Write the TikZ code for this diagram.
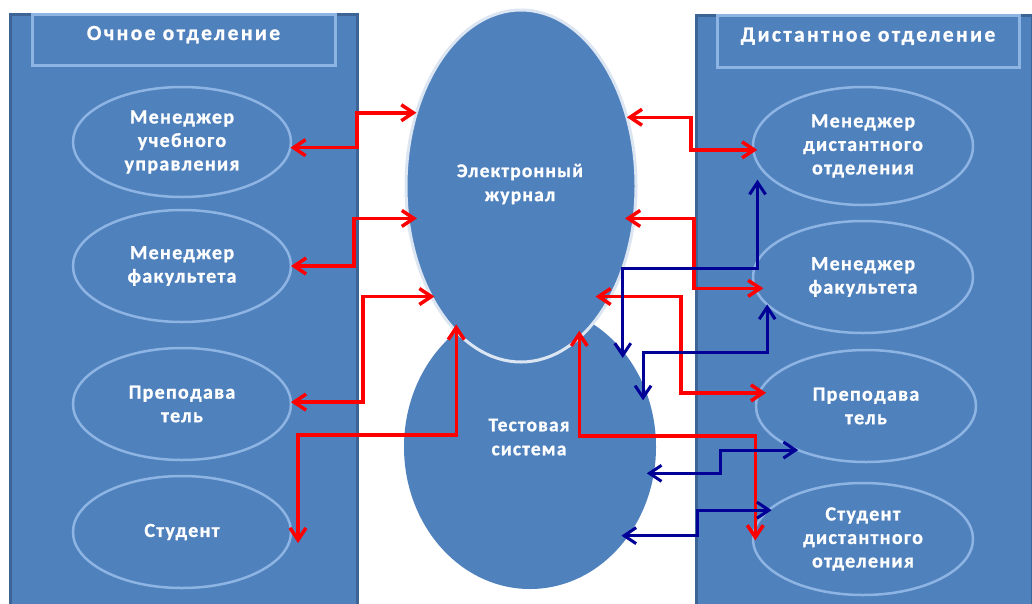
\documentclass[tikz,border=0pt]{standalone}
\usepackage{fontspec}
\newfontfamily\lbl[LetterSpace=6.5,FakeBold=1]{Carlito Bold}
\newfontfamily\lblt[LetterSpace=11,FakeBold=1]{Carlito Bold}
\newfontfamily\lblc[LetterSpace=6,FakeBold=1]{Carlito Bold}
\usetikzlibrary{arrows.meta,shapes.geometric}
\definecolor{pfill}{HTML}{4F81BD}
\definecolor{pedge}{HTML}{3C6494}
\definecolor{lightedge}{HTML}{8EB4E3}
\definecolor{jedge}{HTML}{DCE6F2}
\definecolor{arrred}{HTML}{FF0000}
\definecolor{arrblue}{HTML}{000096}
\begin{document}
\begin{tikzpicture}[x=1pt,y=-1pt,
  panel/.style={rectangle,draw=pedge,line width=3pt,fill=pfill,inner sep=0pt,anchor=north west},
  titlebox/.style={rectangle,draw=lightedge,line width=3pt,fill=pfill,minimum width=303pt,minimum height=51pt,inner sep=0pt,text height=26pt,text depth=25pt,text=white,font=\lblt\fontsize{21.5}{24}\selectfont},
  role/.style={ellipse,draw=lightedge,line width=2.5pt,fill=pfill,minimum width=219pt,minimum height=112pt,inner sep=0pt,outer sep=0pt,align=center,text=white,font=\lbl\fontsize{20}{23.5}\selectfont},
  hub/.style={ellipse,fill=pfill,inner sep=0pt,outer sep=0pt},
  hubtext/.style={align=center,text=white,inner sep=0pt,font=\lblc\fontsize{19.5}{24}\selectfont},
  rl/.style={draw=arrred,line width=3.5pt,arrows={Straight Barb[length=12pt,width=16pt]-Straight Barb[length=12pt,width=16pt]}},
  bl/.style={draw=arrblue,line width=3pt,arrows={Straight Barb[length=12pt,width=16pt]-Straight Barb[length=12pt,width=16pt]}}]
\useasboundingbox (0,0) rectangle (1032,603);
\fill[white] (0,0) rectangle (1032,603);
% panels
\node[panel,minimum width=347pt,minimum height=600pt] (lp) at (9,13) {};
\node[panel,minimum width=336pt,minimum height=600pt] (rp) at (695,14) {};
\node[titlebox] (lt) at (183.5,39.5) {Очное отделение};
\node[titlebox,minimum width=302pt,minimum height=52pt] (rt) at (868,41) {Дистантное отделение};
% left roles
\node[role,minimum width=218pt,minimum height=110pt] (L1) at (182,142) {Менеджер\\учебного\\управления};
\node[role,minimum width=218pt] (L2) at (182,266) {Менеджер\\факультета};
\node[role,minimum width=218pt] (L3) at (182,404) {Преподава\\тель};
\node[role,minimum width=218pt] (L4) at (182,532) {Студент};
% right roles
\node[role,minimum width=220pt,minimum height=118pt] (R1) at (863,146) {Менеджер\\дистантного\\отделения};
\node[role,minimum width=220pt] (R2) at (863,277) {Менеджер\\факультета};
\node[role,minimum width=220pt] (R3) at (866,406) {Преподава\\тель};
\node[role,minimum width=220pt] (R4) at (863,539) {Студент\\дистантного\\отделения};
% hubs
\node[hub,minimum width=252pt,minimum height=284pt] (T) at (530,447) {};
\node[hubtext] (Tt) at (529,437) {Тестовая\\система};
\node[hub,draw=jedge,line width=3pt,minimum width=230pt,minimum height=352pt] (J) at (521,186) {};
\node[hubtext] (Jt) at (520,184) {Электронный\\журнал};
% red connectors (journal)
\draw[rl] (L1.-3) -| (357,0 |- J.145) -- (J.145);
\draw[rl] (L2.east) -| (354,0 |- J.-164) -- ([xshift=9pt]J.-164);
\draw[rl] (L3.1) -| (363,0 |- J.231) -- ([xshift=3pt]J.231);
\draw[rl] ([xshift=7pt,yshift=-11pt]L4.east) |- (J.246 |- 0,435) -- ([yshift=7pt]J.246);
\draw[rl] (J.33) -| (691,0 |- R1.182) -- ([xshift=4pt]R1.182);
\draw[rl] ([xshift=-9pt]J.-16) -| (694,0 |- R2.186) -- ([xshift=8pt]R2.186);
\draw[rl] ([xshift=-15pt]J.-51) -| (681,0 |- R3.173) -- ([xshift=7pt]R3.173);
\draw[rl] ([yshift=7pt]J.-69) |- (R4.186 |- 0,436) -- ([yshift=10pt]R4.186);
% blue connectors (testing system)
\draw[bl] ([yshift=-7pt]T.46) |- (R1.189 |- 0,268) -- ([yshift=-17pt]R1.189);
\draw[bl] ([yshift=-16pt]T.29) |- (R2.196 |- 0,352) -- (R2.196);
\draw[bl] ([xshift=-7pt]T.-12) -| (720,0 |- R3.213) -- (R3.213);
\draw[bl] ([xshift=-7pt]T.-42) -| (697,0 |- R4.163) -- ([xshift=3pt]R4.163);
\end{tikzpicture}
\end{document}
